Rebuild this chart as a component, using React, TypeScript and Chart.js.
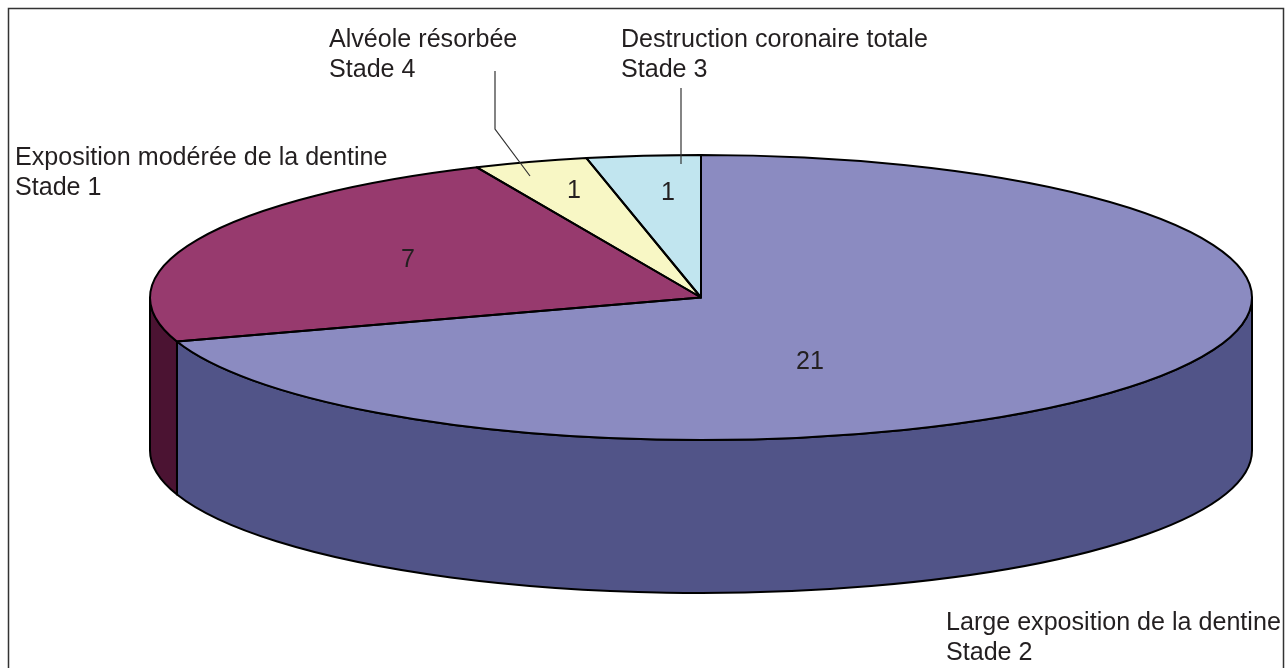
import React, { useEffect, useRef } from "react";
import { Chart, registerables } from "chart.js";

Chart.register(...registerables);

const categories = [
  "Large exposition de la dentine",
  "Exposition modérée de la dentine",
  "Alvéole résorbée",
  "Destruction coronaire totale",
];
const stages = ["Stade 2", "Stade 1", "Stade 4", "Stade 3"];
const values = [21, 7, 1, 1];
const topColors = ["#8b8bc1", "#973a6e", "#f8f7c5", "#c1e5ef"];
const sideColors = ["#515488", "#4b1332", "#8a8a60", "#6b8087"];

// Layout of the tilted pie and its annotations
const CX = 701;
const CY = 297.5;
const RX = 551;
const RY = 142.5;
const DEPTH = 153;
const FONT = '25.1px "Liberation Sans", Arial, sans-serif';
const TEXT = "#231f20";
const labelAnchors = [
  { x: 946, y: 630 },
  { x: 15, y: 165 },
  { x: 329, y: 47 },
  { x: 621, y: 47 },
];
const valueAnchors = [
  { x: 810, y: 369 },
  { x: 408, y: 267 },
  { x: 574, y: 198 },
  { x: 668, y: 200 },
];
const leaders = [
  [[495, 71], [495, 129], [530, 176]],
  [[681, 88], [681, 164]],
];

const arcPath = (ctx: CanvasRenderingContext2D, a0: number, a1: number) => {
  ctx.beginPath();
  ctx.moveTo(CX, CY);
  ctx.ellipse(CX, CY, RX, RY, 0, a0, a1);
  ctx.closePath();
};

const tiltedPie = {
  id: "tiltedPie",
  beforeDraw(chart: any) {
    const { ctx, width } = chart;
    ctx.save();
    ctx.fillStyle = "#ffffff";
    ctx.fillRect(0, 0, width, chart.height);
    ctx.strokeStyle = "#333333";
    ctx.lineWidth = 1.5;
    ctx.strokeRect(8.5, 8.5, 1275, 680);
    ctx.restore();
  },
  beforeDatasetsDraw(chart: any) {
    const { ctx } = chart;
    const arcs = chart.getDatasetMeta(0).data;
    // Side wall: only the part of each slice that faces the viewer
    ctx.save();
    ctx.lineWidth = 2;
    ctx.strokeStyle = "#000000";
    ctx.lineJoin = "round";
    arcs.forEach((arc: any, i: number) => {
      const a0 = Math.max(arc.startAngle, 0);
      const a1 = Math.min(arc.endAngle, Math.PI);
      if (a1 <= a0) return;
      ctx.beginPath();
      ctx.ellipse(CX, CY, RX, RY, 0, a0, a1);
      ctx.ellipse(CX, CY + DEPTH, RX, RY, 0, a1, a0, true);
      ctx.closePath();
      ctx.fillStyle = sideColors[i];
      ctx.fill();
      ctx.stroke();
    });
    ctx.restore();
    // Squash the library's round pie into the ellipse
    const a = arcs[0];
    ctx.save();
    ctx.translate(CX, CY);
    ctx.scale(RX / a.outerRadius, RY / a.outerRadius);
    ctx.translate(-a.x, -a.y);
  },
  afterDatasetsDraw(chart: any) {
    const { ctx } = chart;
    ctx.restore();
    const arcs = chart.getDatasetMeta(0).data;
    ctx.save();
    ctx.lineWidth = 2;
    ctx.strokeStyle = "#000000";
    ctx.lineJoin = "round";
    arcs.forEach((arc: any) => {
      arcPath(ctx, arc.startAngle, arc.endAngle);
      ctx.stroke();
    });
    ctx.restore();
  },
  afterDraw(chart: any) {
    const { ctx } = chart;
    ctx.save();
    ctx.strokeStyle = "#333333";
    ctx.lineWidth = 1.2;
    leaders.forEach((pts) => {
      ctx.beginPath();
      pts.forEach(([x, y], i) => (i ? ctx.lineTo(x, y) : ctx.moveTo(x, y)));
      ctx.stroke();
    });
    ctx.font = FONT;
    ctx.fillStyle = TEXT;
    ctx.textBaseline = "alphabetic";
    ctx.textAlign = "left";
    categories.forEach((c, i) => {
      ctx.fillText(c, labelAnchors[i].x, labelAnchors[i].y);
      ctx.fillText(stages[i], labelAnchors[i].x, labelAnchors[i].y + 30);
    });
    ctx.textAlign = "center";
    values.forEach((v, i) => {
      ctx.fillText(String(v), valueAnchors[i].x, valueAnchors[i].y);
    });
    ctx.restore();
  },
};

export default function App() {
  const ref = useRef<HTMLCanvasElement>(null);
  useEffect(() => {
    const chart = new Chart(ref.current as HTMLCanvasElement, {
      type: "pie",
      data: {
        labels: categories,
        datasets: [{ data: values, backgroundColor: topColors, borderWidth: 0 }],
      },
      options: {
        animation: false,
        responsive: false,
        plugins: { legend: { display: false }, tooltip: { enabled: false } },
      },
      plugins: [tiltedPie],
    } as any);
    return () => chart.destroy();
  }, []);
  return (
    <div style={{ position: "absolute", left: 0, top: 0 }}>
      <canvas ref={ref} width={1286} height={668} style={{ display: "block" }} />
    </div>
  );
}
